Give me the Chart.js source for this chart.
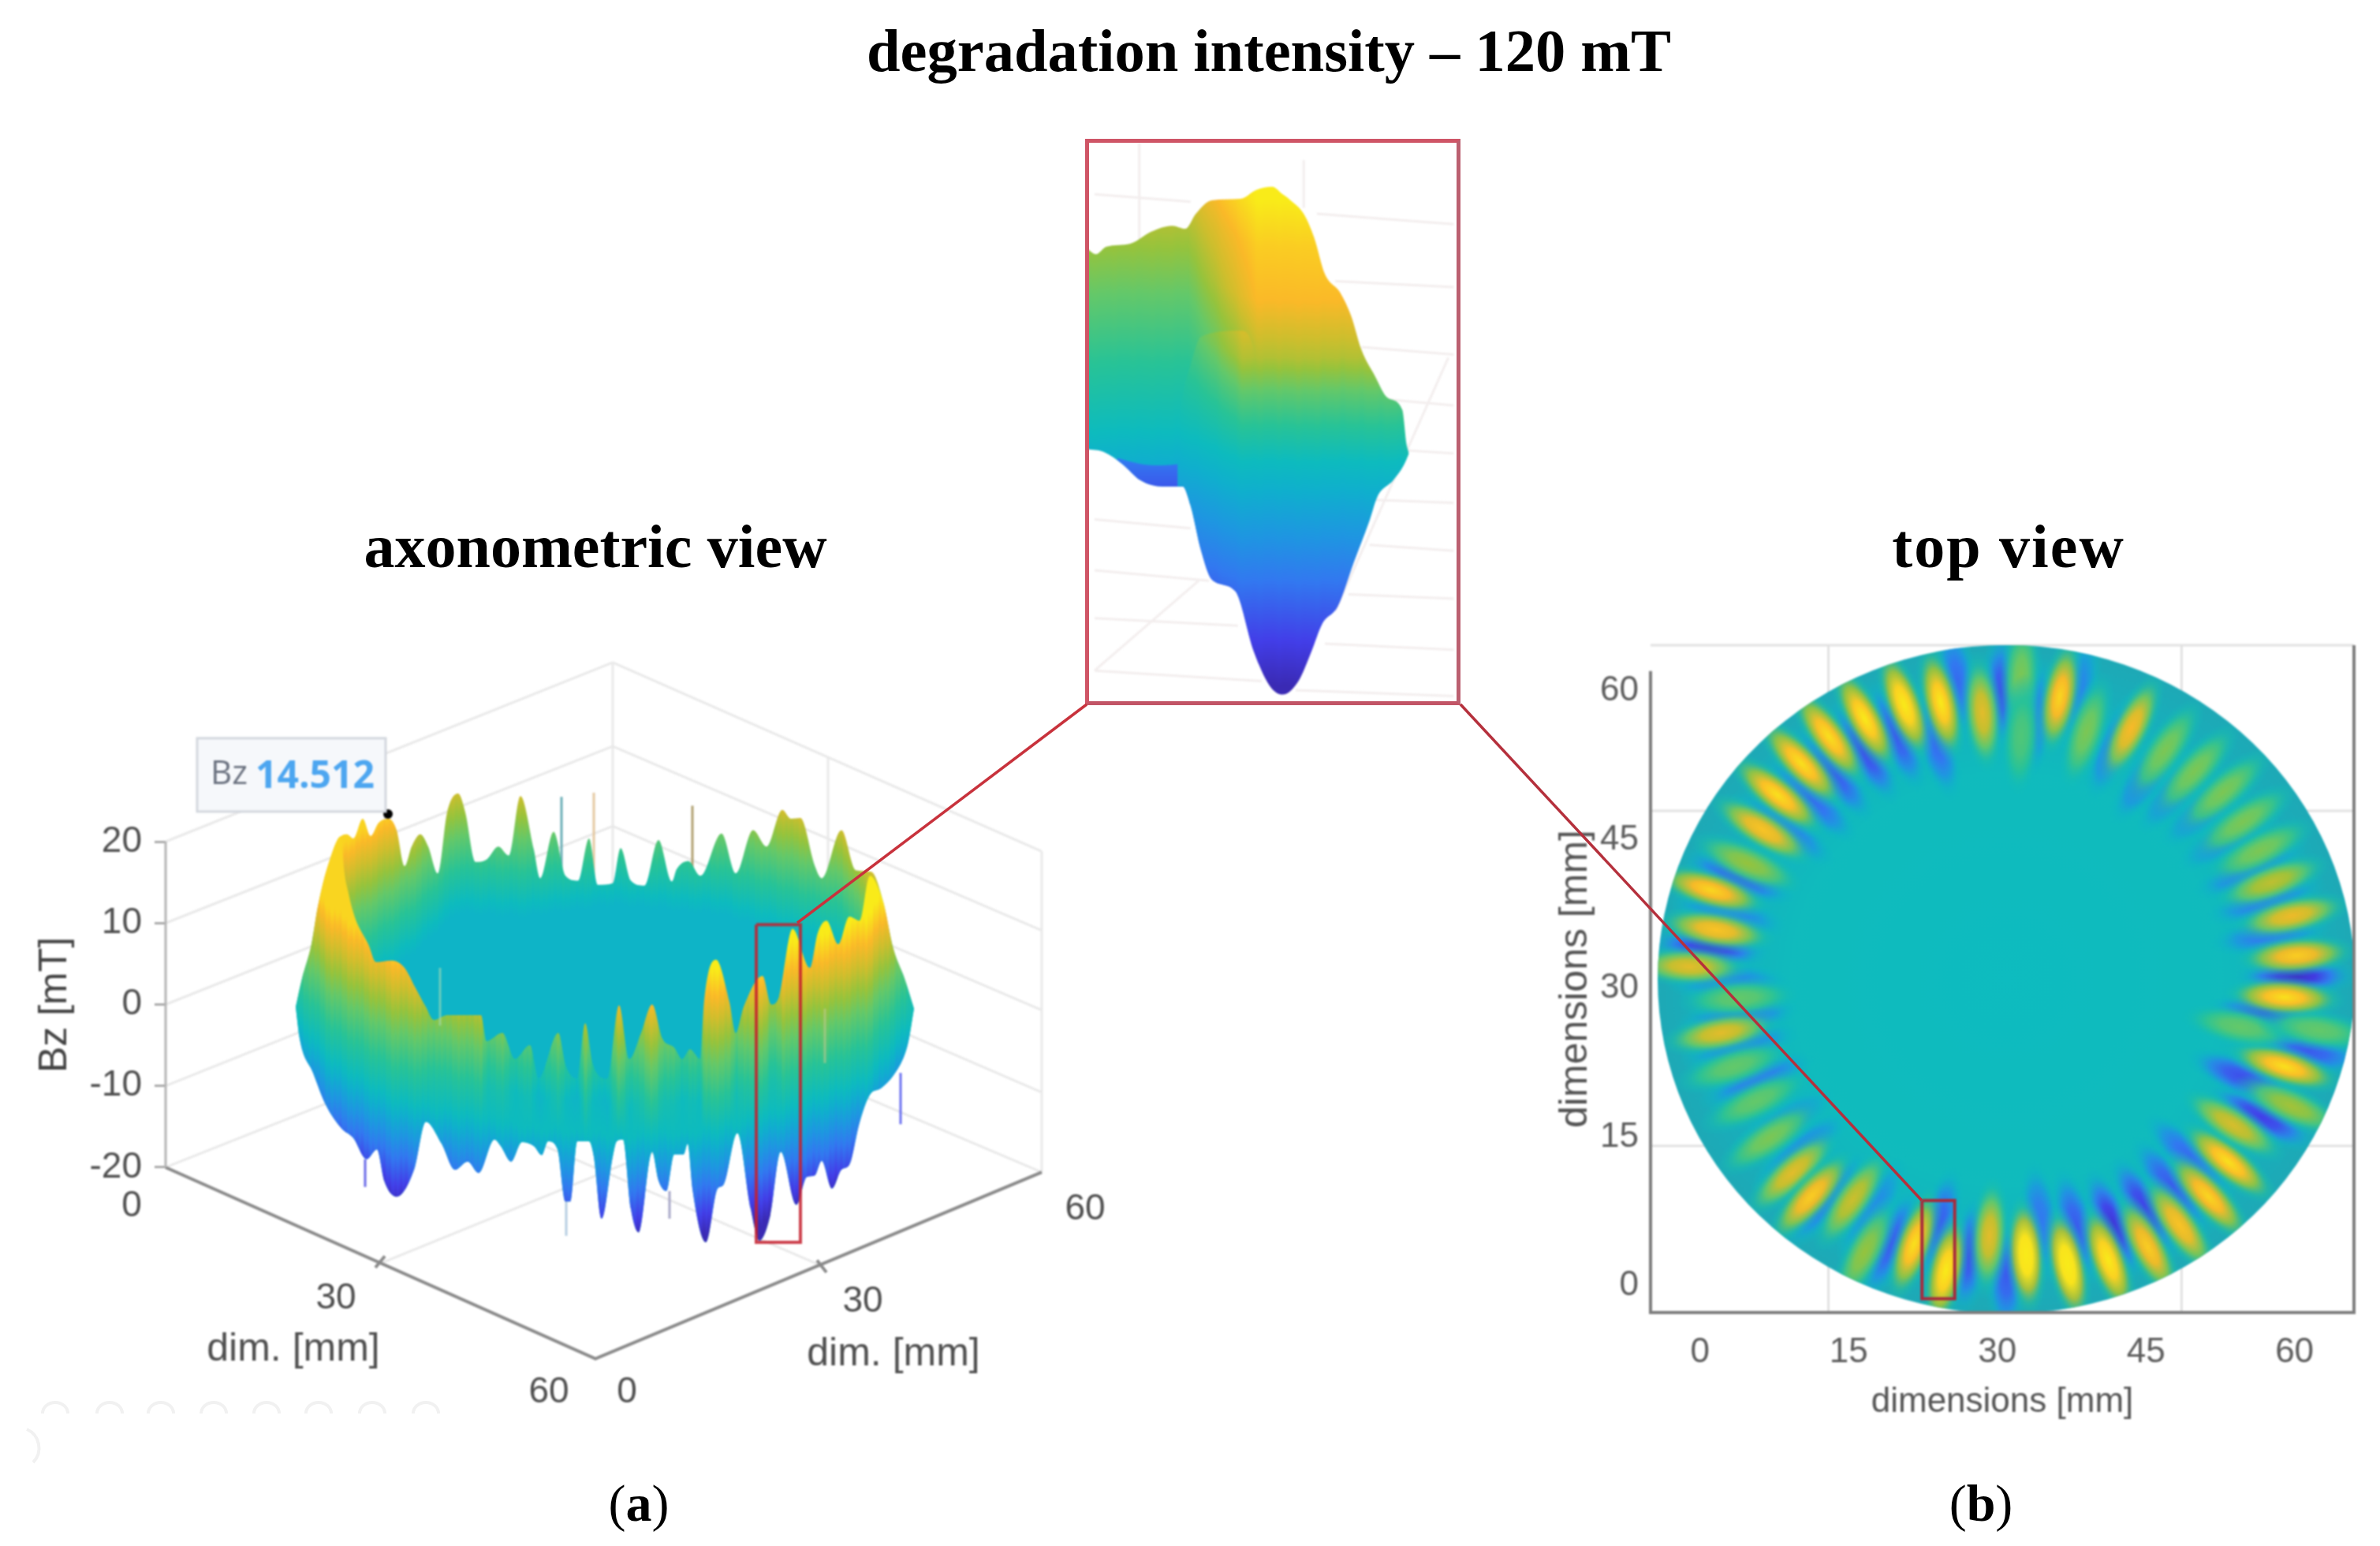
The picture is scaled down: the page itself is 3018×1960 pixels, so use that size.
<!DOCTYPE html>
<html>
<head>
<meta charset="utf-8">
<title>degradation intensity – 120 mT</title>
<script src="https://cdn.jsdelivr.net/npm/chart.js@4/dist/chart.umd.min.js"></script>
<style>
  html, body { margin: 0; background: #fff; width: 3018px; height: 1960px; overflow: hidden; }
  canvas { position: absolute; filter: blur(1px); }
  .label { position: absolute; transform: translate(-50%, -50%); white-space: nowrap; color: #000;
           font-family: "Liberation Serif", serif; font-weight: bold; }
  .caption { font-size: 66px; font-weight: normal; }
  .caption b { font-weight: bold; }
  #insetBorder { position: absolute; left: 1376px; top: 176px; width: 466px; height: 708px;
                 border: 5px solid #cf5566; border-right-color: #bb6070; border-bottom-color: #c25566; }
  svg { position: absolute; left: 0; top: 0; }
</style>
</head>
<body>
<canvas id="axoChart" style="left:0;top:748px" width="1440" height="1052"></canvas>
<canvas id="topChart" style="left:1950px;top:790px" width="1068" height="1014"></canvas>
<canvas id="insetChart" style="left:1378px;top:178px" width="472" height="714"></canvas>
<div id="insetBorder"></div>
<svg width="3018" height="1960">
  <line x1="1378" y1="893" x2="1011" y2="1170" stroke="#c8323c" stroke-width="3.5"/>
  <line x1="1852" y1="893" x2="2437" y2="1522" stroke="#b5303c" stroke-width="3.5"/>
  <g fill="none" stroke="#f1f1f1" stroke-width="4">
    <path d="M54 1792a16 14 0 0 1 32 0M123 1792a16 14 0 0 1 32 0M188 1792a16 14 0 0 1 32 0M255 1792a16 14 0 0 1 32 0M322 1792a16 14 0 0 1 32 0M388 1792a16 14 0 0 1 32 0M456 1792a16 14 0 0 1 32 0M524 1792a16 14 0 0 1 32 0"/>
    <path d="M34 1812a26 26 0 0 1 8 42"/>
  </g>
</svg>
<div class="label" style="left:1609px;top:65px;font-size:76.5px">degradation intensity – 120 mT</div>
<div class="label" style="left:755px;top:693px;font-size:78px">axonometric view</div>
<div class="label" style="left:2547px;top:693px;font-size:78px;letter-spacing:2px">top view</div>
<div class="label caption" style="left:810px;top:1906px">(<b>a</b>)</div>
<div class="label caption" style="left:2512px;top:1906px">(<b>b</b>)</div>

<script>
// colour scale of the surface (parula as it looks in the picture)
const colorStopValues = [-15, -12, -8, -5, -2, 0, 3, 6, 8, 10, 12, 14.5];
const colorStopRgb = [[58,42,180],[66,62,232],[50,120,240],[30,150,225],[15,175,205],[13,187,190],
                      [40,195,150],[100,200,105],[150,195,60],[205,190,45],[250,185,40],[249,235,25]];

// axonometric view: silhouettes read on the Bz axis, x is the projected horizontal position
const bzTicks = [20, 10, 0, -10, -20];
const upperX = [375,383,395,403,415,433,440,448,460,470,480,493,503,513,522,533,543,555,567,581,590,603,617,632,645,660,677,685,702,717,733,747,758,777,787,800,817,835,852,858,873,888,915,933,955,972,992,1003,1015,1033,1042,1067,1085,1105,1120,1133,1147,1159];
const upperZ = [-0.3,3.2,7.4,12,16.8,20.7,20.9,20.4,22.8,20.7,22.3,22.8,21.4,17,19.4,20.9,19.4,16.1,23.6,25.9,23.6,17.5,17.8,19.4,18.3,25.6,19,15.5,21.2,15.8,15.2,20.4,14.7,14.9,19.2,15.2,14.6,20.2,15.1,16.6,17.6,15.8,21,16.1,21.4,19.4,23.9,22.8,22.9,17.1,15.5,21.4,16.5,16.3,12.6,6.8,3.2,-0.5];
const frontX = [375,383,395,403,415,433,436,442,450,467,477,497,513,527,540,550,567,600,610,617,637,653,672,683,708,717,732,742,752,770,785,798,813,827,840,855,865,875,888,893,908,925,933,943,967,978,988,1005,1027,1037,1048,1063,1077,1090,1103,1120,1133,1147,1159];
const frontZ = [-0.3,3.2,7.4,12,16.8,20.7,16.8,13.6,10.7,7.4,5.2,5.4,4.5,2,-0.3,-1.9,-1.3,-1.3,-1.3,-4.5,-3.5,-6.7,-5,-9.1,-3.5,-7.4,-9.1,-2.3,-7.4,-9.1,-0.1,-6.7,-3.5,0,-4.2,-5.3,-6.7,-5.5,-6.7,0.6,5.5,0.3,-3.5,-0.3,3.5,0,1,9.3,4.5,8.8,10.3,7.4,10.8,10.3,15.8,12.6,6.8,3.2,-0.5];
const lowerX = [375,380,397,413,433,448,465,478,487,503,525,540,560,577,593,607,627,635,648,662,677,687,695,707,717,723,732,747,753,763,777,782,790,800,810,827,835,845,855,867,872,878,895,910,917,935,952,963,977,990,1010,1023,1033,1042,1055,1067,1077,1090,1103,1117,1133,1147,1152,1159];
const lowerZ = [-0.3,-4.2,-8.4,-12.3,-15.2,-16.4,-19,-17.8,-21.6,-23.6,-20.3,-14.4,-17.1,-20.3,-19.3,-20.7,-16.6,-17.4,-19.3,-16.9,-17.4,-18.5,-16.8,-17.8,-24.2,-24.2,-16.8,-16.8,-18.7,-26.3,-18.7,-16.8,-16.6,-25.1,-28,-18.1,-21.6,-22.9,-18.4,-18.4,-17.1,-22.6,-29.2,-22.6,-22.2,-15.8,-25.1,-29,-25.8,-18.1,-24.6,-21.2,-21,-19.2,-22.6,-20.3,-19.7,-14.5,-11.1,-10.3,-8.7,-6.2,-4.5,-0.5];
// bright level of each wall: where the surface crosses zero at that position
const frontBaseX = [375,420,500,675,800,908,1000,1050,1100,1160];
const frontBaseZ = [-1.6,-6.9,-11.8,-15.2,-16.1,-15.5,-12.7,-11,-9,-1.6];
const frontRidgeX = [375,540,620,900,980,1160];
const frontRidgeZ = [0,0,-1,-1,3,3];
const backBaseX = [375,450,520,580,660,780,915,990,1067,1100,1160];
const backBaseZ = [-1.6,3.2,7.6,12.9,12.4,13.9,12.7,10.5,8.1,3.2,-1.6];
// thin needles on the surface
const spikeX = [712,753,878,558,1046,718,463,849,1142];
const spikeTop = [25.5,26,24.4,4.5,-0.5,-24.2,-19,-22.9,-8.4];
const spikeEnd = [15.8,14.4,16.8,-2.6,-7.2,-28.4,-22.4,-26.3,-14.7];
const spikeColor = ["#6aaeb5","#e4c8a0","#b0a070","rgba(170,220,180,0.6)","rgba(200,200,140,0.6)","#b5cde2","#6a6ae8","#a8a8c8","#6a70f0"];
// box edges, NaN separates the lines
const wallX = [210,777,NaN,210,777,NaN,210,777,NaN,210,777,NaN,777,1321,NaN,777,1321,NaN,777,1321,NaN,777,1321,NaN,777,1321,NaN,777,777,NaN,1321,1321,NaN,488,488,NaN,1050,1050,NaN,210,777,1321,NaN,482,1050,NaN,1042,493];
const wallZ = [20,42,NaN,10,31.7,NaN,0,21.9,NaN,-10,12,NaN,42,18.8,NaN,31.7,9.1,NaN,21.9,-0.7,NaN,12,-10.8,NaN,1.8,-20.6,NaN,42,1.8,NaN,18.8,-20.6,NaN,31,-9,NaN,30.4,-10,NaN,-20,1.8,-20.6,NaN,-31.8,-9.4,NaN,-32.1,-9.1];
const bzAxisX = [210,210];
const bzAxisZ = [20,-20];
const floorAxisX = [210,755,1321,NaN,476,488,NaN,1036,1048];
const floorAxisZ = [-20,-43.5,-20.6,NaN,-32.3,-30.9,NaN,-31.4,-32.9];
const floorLabels = ["0","30","dim. [mm]","60","0","30","dim. [mm]","60"];
const floorLabelX = [167,426,372,696,795,1094,1133,1376];
const floorLabelZ = [-24.8,-36.1,-42.4,-47.6,-47.6,-36.5,-43,-25.2];
const focusX = [959,1015,1015,959,959];
const focusZ = [9.8,9.8,-29.2,-29.2,9.8];
const markerX = [492];
const markerZ = [23.4];
const markerName = "Bz";
const markerValue = "14.512";

// inset: zoom of the boxed lobe pair
const insetUpperX = [5.5,9,13,22,30,38,43,47,53,64,70,76,80,83,88,92,96,102,106,110,115,120,125.5,127,128];
const insetUpperZ = [11.8,11.4,11.9,12.1,12.9,13.3,13.1,14.1,15,15.1,15.7,15.9,15.4,15,14.1,12.5,10.1,8.8,7.3,5,3.3,1.8,1,-1.2,-1.9];
const insetLowerX = [5.5,12,19,26,34,42,45,49,53,62,69,75,80,86,91,95,101,107,113,116,122,126,128];
const insetLowerZ = [-1.6,-1.8,-2.6,-3.7,-4.1,-4.1,-5.4,-8.4,-10.3,-11.1,-15.1,-17.4,-18,-17.1,-15.1,-13.3,-12.1,-9.2,-6.4,-4.8,-3.7,-2.7,-1.9];
const insetUnderX = [17,26,34,42,45];
const insetUnderZ = [-2.2,-2.6,-2.7,-2.6,-5.4];
const insetBumpX = [40,42,45,49,64,69,71];
const insetBumpZ = [-0.4,2,4,5.9,6.3,5,2];
const insetHeight = [0,4.4,6.9,10.7,14.4,17.4];
const insetShade = [0,5.5,9,12,13,14.5];
const insetGridX = [93,145,NaN,100,145,NaN,110,145,NaN,120,145,NaN,127,145,NaN,115,145,NaN,113,145,NaN,105,145,NaN,96,145,NaN,85,145,NaN,8.5,45,NaN,8.5,45,NaN,8.5,52,NaN,8.5,63,NaN,8.5,72,NaN,8.5,48,NaN,100,143,NaN,25.5,25.5,NaN,88,88];
const insetGridZ = [14.1,13.4,NaN,9.6,9.2,NaN,5.2,4.7,NaN,1.7,1.3,NaN,-1.7,-1.9,NaN,-5,-5.2,NaN,-8,-8.4,NaN,-11.3,-11.6,NaN,-14.6,-15,NaN,-17.7,-18.1,NaN,15.4,14.9,NaN,-6.3,-6.9,NaN,-9.7,-10.4,NaN,-12.9,-13.4,NaN,-16.4,-17.1,NaN,-16.4,-10.4,NaN,-12.4,4.5,NaN,19.1,12.3,NaN,17.7,14.5];

// top view: lobe centres in mm and their Bz
const dimTicks = [0, 15, 30, 45, 60];
const discX = [30.9];
const discY = [30.9];
const peakX = [16.6,21.6,24.8,29.2,32.9,37.1,41.2,45.2,48.4,51.3,53.3,53.8,59.7,59,54.5,62.4,59,60.2,59.7,57.7,56.5,54.8,52.8,49.9,46.9,43.5,39,36.3,32.4,32.4,28.5,24.3,20.6,16.6,13,10.2,7.8,6.3,4.8,1.1,1.6,-1.1,3.9,2.1,3.4,5.6,7,9.3,11.2,15.4];
const peakY = [3.4,4.2,1.5,5,3.1,2.1,2.6,3.9,6.1,9,12.5,16.2,18.1,22.1,26.1,25.8,29.1,33.3,37.3,40.7,43.9,46.8,49.8,51.9,54,56.2,55.9,59.4,61.5,55.4,57.8,58.8,58.6,57.2,55.4,52.7,49.5,46,42.6,39.9,35.9,32.2,29,25.5,22.1,18.6,14.9,11.4,9,8.7];
const peakBz = [8,14,15,11,16,16,15,13,12.5,13.5,14,10.5,8.5,14,6,6,14,13,11.5,9.5,7,7,7,7,7,12,7,13.5,7,5,11,14.5,15,14.5,14,14,14,12.5,8,13.5,12.5,11,6,11,6,6,7,11,13,10];
const dipX = [30.4,26,23.8,19.8,16.6,13.4,11.2,8.5,3.9,0.9,2.9,2.9,3.9,4.1,5.8,8.3,10.2,12.7,17.4,19.2,24,27.2,30.9,34.4,38,41.7,44.9,47.6,49.4,56.7,54.8,61.4,57.2,60.2,57.5,57,55.5,53.5,51.3,48.4,45.2,42,33.9,38];
const dipY = [59.9,61,54.8,55.4,53.8,51.6,49,46,41.2,34.1,37.5,30.6,27.1,24.2,20.7,16.2,13.5,8.7,7.7,4.2,6.1,3.1,1,6.6,6.1,6.3,7.9,10.1,13,17,21,23.7,27.4,31.2,35.4,38.9,42,45.5,48.4,50.3,51.6,54.6,57.2,59.9];
const dipBz = [-11,-9,-9,-10,-11,-10,-9,-8,-10,-13,-7,-7,-9,-7,-8,-7,-7,-8.5,-6,-10,-10,-11,-10,-8,-10,-13,-12,-10,-9,-12,-11,-10,-11,-14,-8,-8,-8,-8,-8,-8,-8,-9,-8,-7];
const topGridX = [-5,66,NaN,12.95,12.95,NaN,48.6,48.6,NaN,-5,66,NaN,-5,66];
const topGridY = [64.6,64.6,NaN,-2.7,64.6,NaN,-2.7,64.6,NaN,47.9,47.9,NaN,14.1,14.1];
const topFrameX = [-5,-5,66,66];
const topFrameY = [62,-2.7,-2.7,64.6];
const topFocusX = [22.4,25.7,25.7,22.4,22.4];
const topFocusY = [8.6,8.6,-1.3,-1.3,8.6];

function points(xs, ys) {
  return xs.map((x, i) => ({ x: x, y: ys[i] }));
}

function anchorValue(xs, ys, x) {
  if (x <= xs[0]) return ys[0];
  for (let i = 1; i < xs.length; i++) {
    if (x <= xs[i]) return ys[i-1] + (ys[i] - ys[i-1]) * (x - xs[i-1]) / (xs[i] - xs[i-1]);
  }
  return ys[ys.length - 1];
}

function surfaceColor(v) {
  const n = colorStopValues.length;
  if (v <= colorStopValues[0]) return colorStopRgb[0];
  if (v >= colorStopValues[n-1]) return colorStopRgb[n-1];
  let i = 1;
  while (v > colorStopValues[i]) i++;
  const t = (v - colorStopValues[i-1]) / (colorStopValues[i] - colorStopValues[i-1]);
  return colorStopRgb[i].map((c, k) => Math.round(colorStopRgb[i-1][k] + (c - colorStopRgb[i-1][k]) * t));
}

// paint value -> colour over the whole canvas, used as the fill pattern of a layer
function surfacePattern(chart, valueAt) {
  const w = chart.width, h = chart.height;
  const off = document.createElement("canvas");
  off.width = w; off.height = h;
  const g = off.getContext("2d");
  const img = g.createImageData(w, h);
  const sx = chart.scales.x, sy = chart.scales.y;
  for (let px = 0; px < w; px++) {
    const x = sx.getValueForPixel(px);
    for (let py = 0; py < h; py++) {
      const c = surfaceColor(valueAt(x, sy.getValueForPixel(py)));
      const o = (py * w + px) * 4;
      img.data[o] = c[0]; img.data[o+1] = c[1]; img.data[o+2] = c[2]; img.data[o+3] = 255;
    }
  }
  g.putImageData(img, 0, 0);
  return chart.ctx.createPattern(off, "no-repeat");
}

function streak(x) {
  return 0.35 * Math.sin(x * 0.9) + 0.3 * Math.sin(x * 0.23) + 0.25 * Math.sin(x * 1.7);
}

function lobeSprite(v) {
  const c = document.createElement("canvas");
  c.width = 160; c.height = 54;
  const g = c.getContext("2d");
  g.translate(80, 27);
  g.scale(80, 27);
  const grad = g.createRadialGradient(0, 0, 0, 0, 0, 1);
  [[0,1,1],[0.3,0.88,1],[0.55,0.55,0.95],[0.78,0.2,0.45],[1,0,0]].forEach(s => {
    grad.addColorStop(s[0], "rgba(" + surfaceColor(v * s[1]).join(",") + "," + s[2] + ")");
  });
  g.fillStyle = grad;
  g.beginPath(); g.arc(0, 0, 1, 0, Math.PI * 2); g.fill();
  return c;
}

function discSprite() {
  const c = document.createElement("canvas");
  c.width = 884; c.height = 848;
  const g = c.getContext("2d");
  g.translate(442, 424);
  g.scale(442, 424);
  const grad = g.createRadialGradient(0, 0, 0, 0, 0, 1);
  grad.addColorStop(0, "#0dbcc0");
  grad.addColorStop(0.62, "#10bbbd");
  grad.addColorStop(0.8, "#14b2bf");
  grad.addColorStop(1, "#1ea9b6");
  g.fillStyle = grad;
  g.beginPath(); g.arc(0, 0, 1, 0, Math.PI * 2); g.fill();
  return c;
}

function lineSet(xs, ys, color, width, order) {
  return { data: points(xs, ys), showLine: true, borderColor: color, borderWidth: width,
           pointRadius: 0, order: order, clip: false, spanGaps: false };
}

function surfaceSet(xs, ys, target, order) {
  return { data: points(xs, ys), showLine: true, borderWidth: 0, borderColor: "rgba(0,0,0,0)",
           pointRadius: 0, cubicInterpolationMode: "monotone", fill: { target: target },
           backgroundColor: "#0dbbbe", order: order, clip: false };
}

// keep the chart area exactly where the scale limits say
function noScalePadding(s) {
  s.paddingTop = 0; s.paddingBottom = 0; s.paddingLeft = 0; s.paddingRight = 0;
}

const baseOptions = {
  responsive: false, animation: false, devicePixelRatio: 1, events: [],
  plugins: { legend: { display: false }, tooltip: { enabled: false } }
};

// ---------- axonometric view ----------
const axoLabels = {
  id: "axoLabels",
  afterDatasetsDraw(chart) {
    const ctx = chart.ctx, sx = chart.scales.x, sy = chart.scales.y;
    ctx.save();
    ctx.textAlign = "center"; ctx.textBaseline = "middle"; ctx.fillStyle = "#4f4f4f";
    floorLabels.forEach((t, i) => {
      ctx.font = (t.length > 3 ? 50 : 46) + 'px "Liberation Sans"';
      ctx.fillText(t, sx.getPixelForValue(floorLabelX[i]), sy.getPixelForValue(floorLabelZ[i]));
    });
    // callout of the marked peak
    const mx = sx.getPixelForValue(markerX[0]), my = sy.getPixelForValue(markerZ[0]);
    ctx.fillStyle = "#f6f8fb"; ctx.strokeStyle = "#d3d7de"; ctx.lineWidth = 3;
    ctx.fillRect(mx - 242, my - 96, 239, 93);
    ctx.strokeRect(mx - 242, my - 96, 239, 93);
    ctx.textAlign = "left";
    ctx.fillStyle = "#6b7280"; ctx.font = '42px "Open Sans"';
    ctx.fillText(markerName, mx - 225, my - 50);
    ctx.fillStyle = "#4da6f0"; ctx.font = 'bold 48px "Open Sans"';
    ctx.fillText(markerValue, mx - 168, my - 47);
    ctx.restore();
  }
};

const axoSets = [
  surfaceSet(lowerX, lowerZ, 1, 7),
  surfaceSet(upperX, upperZ, 0, 8),
  surfaceSet(frontX, frontZ, 0, 6),
  lineSet(wallX, wallZ, "#e9e9e9", 3, 12),
  lineSet(bzAxisX, bzAxisZ, "#b4b4b4", 3, 11),
  lineSet(floorAxisX, floorAxisZ, "#8a8a8a", 4, 11),
  lineSet(focusX, focusZ, "rgba(196,30,45,0.85)", 4, 2),
  { data: points(markerX, markerZ), pointRadius: 6, pointBackgroundColor: "#000", pointBorderWidth: 0, order: 1 }
];
axoSets[0].fill = false;
spikeX.forEach((x, i) => {
  axoSets.push(lineSet([x, x], [spikeTop[i], spikeEnd[i]], spikeColor[i], 3, i < 3 || i > 4 ? 9 : 5));
});

const axoChart = new Chart(document.getElementById("axoChart"), {
  type: "scatter",
  data: { datasets: axoSets },
  options: Object.assign({}, baseOptions, {
    layout: { autoPadding: false, padding: 0 },
    scales: {
      x: { type: "linear", display: false, min: 210, max: 1440 },
      y: {
        type: "linear", min: -51, max: 50.9,
        afterFit: s => { s.width = 210; noScalePadding(s); },
        afterBuildTicks: s => { s.ticks = bzTicks.map(v => ({ value: v })); },
        border: { display: false },
        grid: { drawOnChartArea: false, drawTicks: true, tickLength: 14, tickColor: "#aaa", lineWidth: 3 },
        ticks: { padding: 16, color: "#4f4f4f", font: { family: "Liberation Sans", size: 46 }, callback: v => String(v) },
        title: { display: true, text: "Bz [mT]", color: "#444", padding: { top: 40, bottom: 0 },
                 font: { family: "Liberation Sans", size: 50 } }
      }
    }
  }),
  plugins: [axoLabels]
});
axoSets[1].backgroundColor = surfacePattern(axoChart, (x, z) => {
  const d = z - anchorValue(backBaseX, backBaseZ, x) + streak(x) * 0.6;
  return Math.min(Math.max(d * 0.75, -1.2), 13.3);
});
axoSets[2].backgroundColor = surfacePattern(axoChart, (x, z) => {
  const d = z - anchorValue(frontBaseX, frontBaseZ, x) + streak(x);
  if (d <= 0) return d * 1.17;
  // columns that end low (gaps between peaks) stay teal
  const gap = Math.max(0, anchorValue(frontRidgeX, frontRidgeZ, x) - anchorValue(frontX, frontZ, x));
  const v = d * 0.72 - 0.5 * gap * Math.min(1, d / 4);
  return x < 560 ? Math.min(v, 13.4) : v;
});
axoChart.update();

// ---------- inset ----------
const insetSets = [
  surfaceSet(insetLowerX, insetLowerZ, 1, 8),
  surfaceSet(insetUpperX, insetUpperZ, 0, 7),
  surfaceSet(insetUnderX, insetUnderZ, 0, 6),
  surfaceSet(insetBumpX, insetBumpZ, 0, 5),
  lineSet(insetGridX, insetGridZ, "#f3eeee", 3, 10)
];
insetSets[0].fill = false;
const insetChart = new Chart(document.getElementById("insetChart"), {
  type: "scatter",
  data: { datasets: insetSets },
  options: Object.assign({}, baseOptions, {
    layout: { autoPadding: false, padding: 0 },
    scales: {
      x: { type: "linear", display: false, min: 5.5, max: 147 },
      y: { type: "linear", display: false, min: -18.6, max: 19 }
    }
  })
});
insetSets[1].backgroundColor = surfacePattern(insetChart, (x, z) => {
  const t = Math.min(Math.max((x - 44) / 26, 0), 1);
  const d = z - (-0.4 - 2 * t) + streak(x) * 0.15;
  if (d <= 0) return d;
  return d * 0.65 * (1 - t) + anchorValue(insetHeight, insetShade, d) * t;
});
insetSets[2].backgroundColor = surfacePattern(insetChart, (x, z) => (z + 0.2) * 1.35 - 5);
insetSets[3].backgroundColor = surfacePattern(insetChart, (x, z) => {
  const t = Math.min(Math.max((x - 40) / 25, 0), 1);
  const d = z - (-0.4 - 2 * t) + streak(x) * 0.15;
  if (d <= 0) return d;
  return d * 0.65 * (1 - t) + anchorValue(insetHeight, insetShade, d) * t;
});
insetChart.update();

// ---------- top view ----------
const peakSprites = peakBz.map(lobeSprite);
const dipSprites = dipBz.map(lobeSprite);
const discImage = discSprite();
const radialAngle = c => Math.atan2(-(c.raw.y - discY[0]), c.raw.x - discX[0]) * 180 / Math.PI;

// lobes must stay inside the disc
const discClip = {
  id: "discClip",
  beforeDatasetDraw(chart, args) {
    if (args.index !== 3 && args.index !== 4) return;
    const ctx = chart.ctx;
    ctx.save();
    ctx.beginPath();
    ctx.ellipse(chart.scales.x.getPixelForValue(discX[0]), chart.scales.y.getPixelForValue(discY[0]), 442, 424, 0, 0, Math.PI * 2);
    ctx.clip();
  },
  afterDatasetDraw(chart, args) {
    if (args.index === 3 || args.index === 4) chart.ctx.restore();
  }
};

new Chart(document.getElementById("topChart"), {
  type: "scatter",
  data: { datasets: [
    lineSet(topGridX, topGridY, "#e2e2e2", 3, 12),
    lineSet(topFrameX, topFrameY, "#7d7d7d", 4, 1),
    { data: points(discX, discY), pointRadius: 5, pointStyle: discImage, order: 8 },
    { data: points(dipX, dipY), pointRadius: 5, pointStyle: c => dipSprites[c.dataIndex] || "circle", pointRotation: radialAngle, order: 7 },
    { data: points(peakX, peakY), pointRadius: 5, pointStyle: c => peakSprites[c.dataIndex] || "circle", pointRotation: radialAngle, order: 6 },
    lineSet(topFocusX, topFocusY, "#a82a3c", 4, 2)
  ] },
  options: Object.assign({}, baseOptions, {
    layout: { autoPadding: false, padding: { top: 28, right: 33, left: 0, bottom: 0 } },
    scales: {
      x: {
        type: "linear", min: -5, max: 66,
        afterFit: s => { s.height = 140; noScalePadding(s); },
        afterBuildTicks: s => { s.ticks = dimTicks.map(v => ({ value: v })); },
        border: { display: false },
        grid: { display: false, drawTicks: false },
        ticks: { padding: 24, maxRotation: 0, color: "#5c5c5c", font: { family: "Liberation Sans", size: 44 }, callback: v => String(v) },
        title: { display: true, text: "dimensions [mm]", color: "#555", padding: 0,
                 font: { family: "Liberation Sans", size: 44 } }
      },
      y: {
        type: "linear", min: -2.7, max: 64.6,
        afterFit: s => { s.width = 143; noScalePadding(s); },
        afterBuildTicks: s => { s.ticks = dimTicks.map(v => ({ value: v })); },
        border: { display: false },
        grid: { display: false, drawTicks: false },
        ticks: { padding: 15, color: "#5c5c5c", font: { family: "Liberation Sans", size: 44 }, callback: v => String(v) },
        title: { display: true, text: "dimensions [mm]", color: "#555", padding: { top: 18, bottom: 0 },
                 font: { family: "Liberation Sans", size: 50 } }
      }
    }
  }),
  plugins: [discClip]
});
</script>
</body>
</html>
